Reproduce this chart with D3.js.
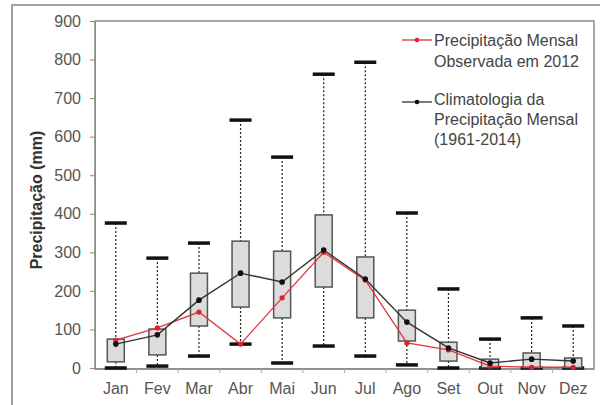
<!DOCTYPE html>
<html>
<head>
<meta charset="utf-8">
<script src="https://cdn.jsdelivr.net/npm/d3@7"></script>
<style>
  body { margin: 0; background: #fff; }
  text { font-family: "Liberation Sans", Arial, sans-serif; }
</style>
</head>
<body>
<div id="canvas"></div>
<script>
// monthly precipitation (mm)
const months   = ["Jan","Fev","Mar","Abr","Mai","Jun","Jul","Ago","Set","Out","Nov","Dez"];
const minVals  = [0, 5, 31, 62, 13, 57, 31, 8, 0, 0, 0, 0];
const q1Vals   = [16, 34, 109, 158, 130, 210, 130, 70, 18, 1, 1, 1];
const q3Vals   = [75, 101, 246, 329, 303, 397, 288, 150, 67, 23, 39, 26];
const maxVals  = [376, 285, 324, 643, 547, 762, 793, 402, 205, 75, 130, 109];
const climMean = [62, 86, 176, 246, 223, 306, 231, 119, 52, 13, 23, 18];
const obs2012  = [72, 104, 145, 62, 182, 300, 228, 65, 47, 5, 2, 2];
const yTicks   = [0, 100, 200, 300, 400, 500, 600, 700, 800, 900];

const w = 600, h = 405;
const padL = 95, padR = 594, padT = 21, padB = 368;
const boxW = 17, capW = 22;

let svg = d3.select("#canvas").append("svg").attr("width", w).attr("height", h);

// outer frame of the figure
svg.append("path").attr("d", "M12," + h + "V5H" + w)
   .attr("fill", "none").attr("stroke", "#a0a0a0").attr("stroke-width", 2);

const xScale = d3.scaleBand().domain(months).range([padL, padR]);
const yScale = d3.scaleLinear().domain([0, 900]).range([padB, padT]);
const cx = m => xScale(m) + xScale.bandwidth() / 2;

// plot border
svg.append("rect").attr("x", padL).attr("y", padT)
   .attr("width", padR - padL).attr("height", padB + 1 - padT)
   .attr("fill", "none").attr("stroke", "#8a8a8a").attr("stroke-width", 1.5);

// y axis
const yAxis = d3.axisLeft(yScale).tickValues(yTicks).tickSize(5).tickPadding(9);
const gy = svg.append("g").attr("transform", "translate(" + padL + ",0)").call(yAxis);
gy.select(".domain").attr("stroke", "#8a8a8a");
gy.selectAll(".tick line").attr("stroke", "#8a8a8a");
gy.selectAll(".tick text").attr("fill", "#555").style("font-size", "16px");

// x axis: ticks at category borders
const gx = svg.append("g").attr("transform", "translate(0," + (padB + 1) + ")");
gx.append("line").attr("x1", padL).attr("x2", padR).attr("stroke", "#8a8a8a").attr("stroke-width", 1.5);
gx.selectAll(".bt").data(months.slice(1)).enter().append("line")
  .attr("x1", d => xScale(d)).attr("x2", d => xScale(d))
  .attr("y1", 0).attr("y2", 4).attr("stroke", "#aaa");
gx.selectAll(".lbl").data(months).enter().append("text")
  .attr("x", d => cx(d)).attr("y", 25).attr("text-anchor", "middle")
  .attr("fill", "#555").style("font-size", "16px").text(d => d);

// y title
svg.append("text").attr("transform", "translate(42,200) rotate(-90)")
   .attr("text-anchor", "middle").attr("font-weight", "bold")
   .attr("fill", "#333").style("font-size", "16px").text("Precipitação (mm)");

// whiskers
const wg = svg.append("g");
months.forEach((m, i) => {
  wg.append("line").attr("x1", cx(m)).attr("x2", cx(m))
    .attr("y1", yScale(maxVals[i])).attr("y2", yScale(q3Vals[i]))
    .attr("stroke", "#222").attr("stroke-width", 1.2).attr("stroke-dasharray", "2,2");
  wg.append("line").attr("x1", cx(m)).attr("x2", cx(m))
    .attr("y1", yScale(q1Vals[i])).attr("y2", yScale(minVals[i]))
    .attr("stroke", "#222").attr("stroke-width", 1.2).attr("stroke-dasharray", "2,2");
  [maxVals[i], minVals[i]].forEach(v => {
    wg.append("line").attr("x1", cx(m) - capW / 2).attr("x2", cx(m) + capW / 2)
      .attr("y1", yScale(v)).attr("y2", yScale(v))
      .attr("stroke", "#111").attr("stroke-width", 3.5);
  });
});

// boxes
svg.selectAll(".box").data(months).enter().append("rect")
   .attr("x", d => cx(d) - boxW / 2)
   .attr("y", (d, i) => yScale(q3Vals[i]))
   .attr("width", boxW)
   .attr("height", (d, i) => yScale(q1Vals[i]) - yScale(q3Vals[i]))
   .attr("fill", "#dcdcdc").attr("stroke", "#555").attr("stroke-width", 1.5);

// lines
const line = d3.line().x((d, i) => cx(months[i])).y(d => yScale(d));
svg.append("path").datum(obs2012).attr("d", line)
   .attr("fill", "none").attr("stroke", "#e2343c").attr("stroke-width", 1.3);
svg.append("path").datum(climMean).attr("d", line)
   .attr("fill", "none").attr("stroke", "#333").attr("stroke-width", 1.4);
svg.selectAll(".rdot").data(obs2012).enter().append("circle")
   .attr("cx", (d, i) => cx(months[i])).attr("cy", d => yScale(d))
   .attr("r", 2.6).attr("fill", "#d8242e");
svg.selectAll(".kdot").data(climMean).enter().append("circle")
   .attr("cx", (d, i) => cx(months[i])).attr("cy", d => yScale(d))
   .attr("r", 2.8).attr("fill", "#111");

// legend
const lg = svg.append("g");
lg.append("line").attr("x1", 402).attr("x2", 432).attr("y1", 40).attr("y2", 40)
  .attr("stroke", "#e2343c").attr("stroke-width", 1.3);
lg.append("circle").attr("cx", 417).attr("cy", 40).attr("r", 2.3).attr("fill", "#d8242e");
lg.append("line").attr("x1", 402).attr("x2", 432).attr("y1", 102).attr("y2", 102)
  .attr("stroke", "#333").attr("stroke-width", 1.3);
lg.append("circle").attr("cx", 417).attr("cy", 102).attr("r", 2.3).attr("fill", "#111");
const legLines = [["Precipitação Mensal", 46], ["Observada em 2012", 67],
                  ["Climatologia da", 105], ["Precipitação Mensal", 125], ["(1961-2014)", 145]];
legLines.forEach(l => {
  lg.append("text").attr("x", 434).attr("y", l[1]).attr("fill", "#444")
    .style("font-size", "16px").text(l[0]);
});
</script>
</body>
</html>
